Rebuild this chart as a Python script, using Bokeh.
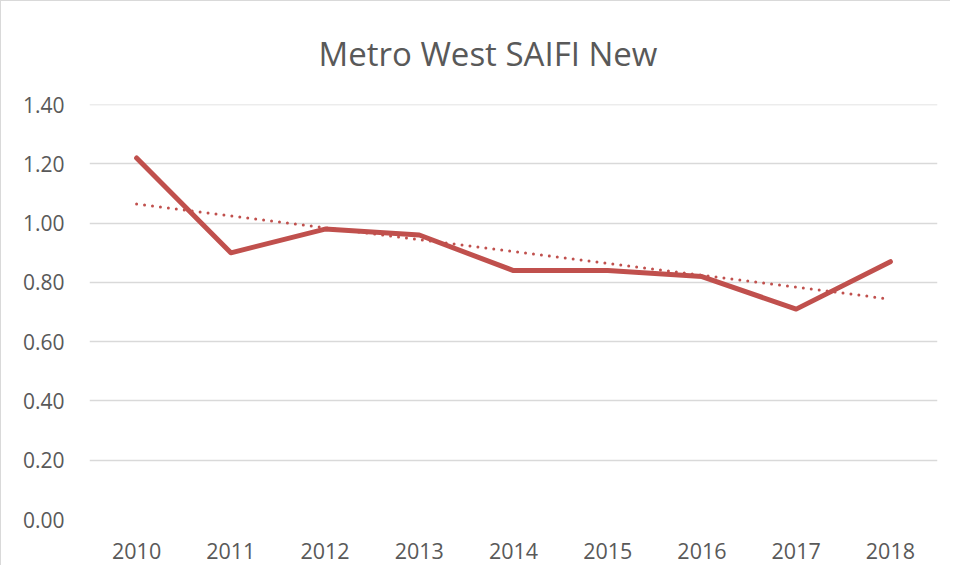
import numpy as np
from bokeh.plotting import figure
from bokeh.models import Range1d, FixedTicker, Title, ColumnDataSource, NumeralTickFormatter
from bokeh.embed import file_html
from bokeh.resources import INLINE

years = ["2010", "2011", "2012", "2013", "2014", "2015", "2016", "2017", "2018"]
saifi = [1.22, 0.90, 0.98, 0.96, 0.84, 0.84, 0.82, 0.71, 0.87]
y_ticks = [0.0, 0.2, 0.4, 0.6, 0.8, 1.0, 1.2, 1.4]
title_text = "Metro West SAIFI New"

# linear trendline (least squares on the series, as the spreadsheet does)
idx = np.arange(len(years))
slope, intercept = np.polyfit(idx, saifi, 1)
trend = list(slope * idx + intercept)

RED = "#C0504D"
GRID = "#D9D9D9"
TEXT = "#595959"

p = figure(x_range=years, y_range=Range1d(0, 1.4005), width=950, height=565,
           output_backend="svg", toolbar_location=None,
           min_border_left=88, min_border_right=14, min_border_top=103,
           min_border_bottom=47)
p.title = None
t = Title(text=title_text, align="left", vertical_align="top", text_font="Open Sans",
          text_font_size="33px", text_font_style="normal", text_color=TEXT,
          offset=229, standoff=54)
p.add_layout(t, "above")

p.outline_line_color = None
p.background_fill_color = "white"
p.border_fill_color = "white"

p.xgrid.grid_line_color = None
p.ygrid.grid_line_color = GRID
p.ygrid.grid_line_width = 1.5

p.yaxis.ticker = FixedTicker(ticks=y_ticks)
p.yaxis.formatter = NumeralTickFormatter(format="0.00")
for ax in (p.xaxis[0], p.yaxis[0]):
    ax.axis_line_color = None
    ax.major_tick_line_color = None
    ax.minor_tick_line_color = None
    ax.major_label_text_font = "Open Sans"
    ax.major_label_text_color = TEXT
p.yaxis.major_label_text_font_size = "21px"
p.xaxis.major_label_text_font_size = "21.5px"
p.yaxis.major_label_standoff = 19
p.xaxis.major_label_standoff = 17

src = ColumnDataSource(dict(x=years, y=saifi, t=trend))
p.line("x", "y", source=src, line_color=RED, line_width=5, line_join="round", line_cap="round")
p.line("x", "t", source=src, line_color=RED, line_width=3, line_dash="0 8", line_cap="round")

p.styles = {"border-left": "1px solid #D9D9D9", "border-top": "1px solid #D9D9D9"}

open("out.html", "w").write(file_html(p, INLINE))
